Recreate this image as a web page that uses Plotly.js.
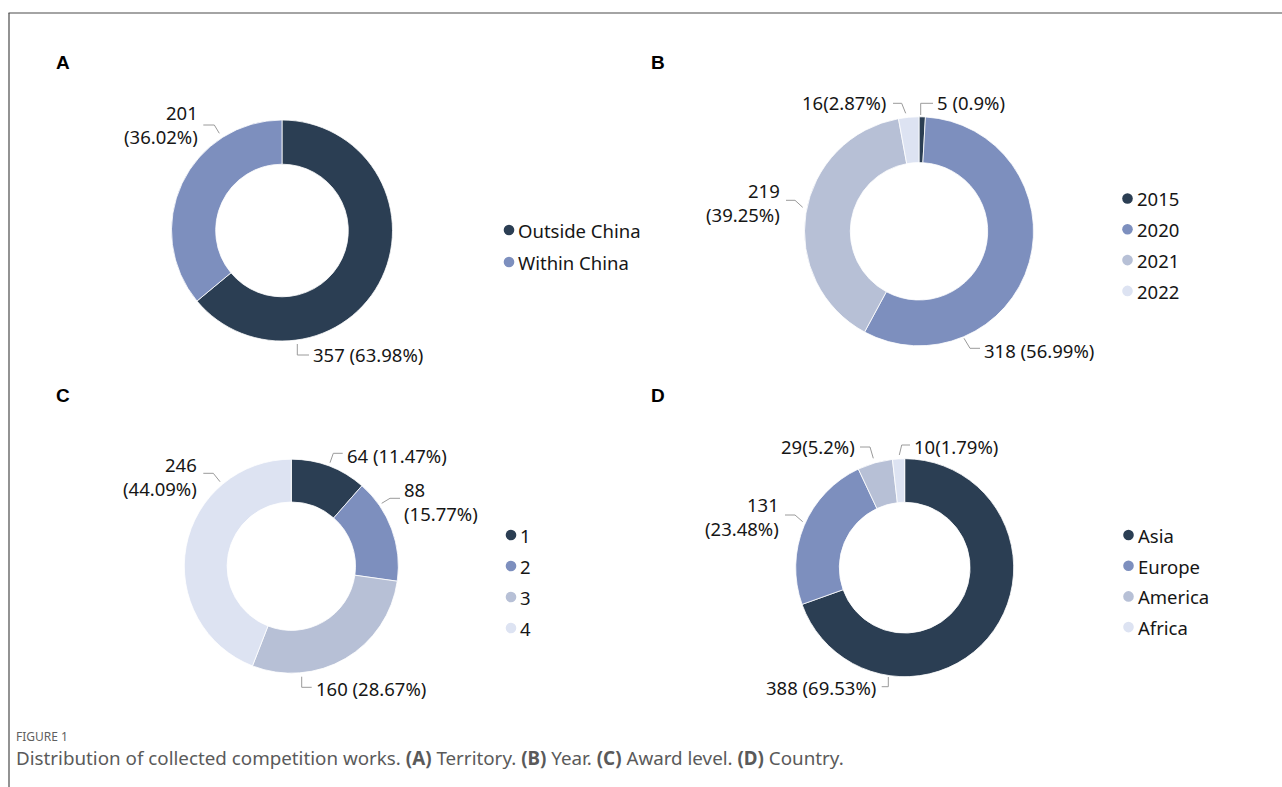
<!DOCTYPE html>
<html>
<head>
<meta charset="utf-8">
<script src="https://cdn.plot.ly/plotly-3.0.1.min.js"></script>
<style>
  html, body { margin: 0; padding: 0; background: #ffffff; }
  #chart { width: 1282px; height: 787px; }
</style>
</head>
<body>
<div id="chart"></div>
<script>
// ---------------- DATA ----------------
const territoryLabels = ["Outside China", "Within China"];
const territoryValues = [357, 201];

const yearLabels = ["2015", "2020", "2021", "2022"];
const yearValues = [5, 318, 219, 16];

const awardLabels = ["1", "2", "3", "4"];
const awardValues = [64, 88, 160, 246];

const countryLabels = ["Asia", "Europe", "America", "Africa"];
const countryValues = [388, 131, 29, 10];

const panelLetters = ["A", "B", "C", "D"];
const captionTitle = "FIGURE 1";
const captionText = "Distribution of collected competition works. <b>(A)</b> Territory. <b>(B)</b> Year. <b>(C)</b> Award level. <b>(D)</b> Country.";

// ---------------- STYLE / LAYOUT ----------------
const W = 1282, H = 787;
const fx = p => p / W;
const fy = p => 1 - p / H;

const palette = ["#2b3e53", "#7d8fbe", "#b7c0d6", "#dde3f2"];
const FONT = "Noto Sans, Open Sans, sans-serif";
const LABEL_SIZE = 18.5;
const TEXT_COLOR = "#161616";
const LEADER_COLOR = "#9a9a9a";

// pie geometry (pixels): center and outer radius
const panels = [
  { labels: territoryLabels, values: territoryValues, cx: 282, cy: 230.5, r: 110.5,
    letter: [63, 62], legend: { x: 509, y0: 230, dy: 32 } },
  { labels: yearLabels, values: yearValues, cx: 919, cy: 231.3, r: 114.5,
    letter: [658, 62], legend: { x: 1127.5, y0: 198.5, dy: 30.8 } },
  { labels: awardLabels, values: awardValues, cx: 291.3, cy: 566.2, r: 107,
    letter: [63, 395], legend: { x: 511, y0: 535, dy: 31 } },
  { labels: countryLabels, values: countryValues, cx: 904.7, cy: 567.7, r: 109,
    letter: [658, 395], legend: { x: 1128.5, y0: 535, dy: 30.7 } }
];

// label placement per slice (leader path points in px, text anchor, separator)
const labelPlacement = [
  [
    { pts: [[297.3, 344], [297.3, 355], [309, 355]], tx: 311, ty: 355, side: "left", sep: " " },
    { pts: [[219.3, 133.3], [214.3, 125], [203.3, 125]], tx: 200, ty: 124, side: "right", sep: "<br>" }
  ],
  [
    { pts: [[920.7, 115], [920.7, 103.3], [933, 103.3]], tx: 935, ty: 103, side: "left", sep: " " },
    { pts: [[964, 338.3], [970, 348.3], [980, 348.3]], tx: 982, ty: 350, side: "left", sep: " " },
    { pts: [[802.7, 207.3], [795, 200.3], [786, 200.3]], tx: 782, ty: 202, side: "right", sep: "<br>" },
    { pts: [[905.7, 113.3], [901.7, 103.3], [893, 103.3]], tx: 888, ty: 103, side: "right", sep: "" }
  ],
  [
    { pts: [[330, 462.7], [333.3, 453.3], [342.7, 453.3]], tx: 345, ty: 455, side: "left", sep: " " },
    { pts: [[381.7, 503.3], [390, 498.3], [400, 498.3]], tx: 402, ty: 501, side: "left", sep: "<br>" },
    { pts: [[301.7, 676.7], [301.7, 687.3], [311.7, 687.3]], tx: 314, ty: 688, side: "left", sep: " " },
    { pts: [[220, 481.7], [213.3, 473.3], [203.3, 473.3]], tx: 199.5, ty: 476.5, side: "right", sep: "<br>" }
  ],
  [
    { pts: [[888.3, 677], [888.3, 686.7], [881.7, 686.7]], tx: 878, ty: 687, side: "right", sep: " " },
    { pts: [[802.7, 521.7], [795, 515], [785, 515]], tx: 781, ty: 516.5, side: "right", sep: "<br>" },
    { pts: [[873.3, 458.3], [870, 447], [860, 447]], tx: 856.5, ty: 447, side: "right", sep: "" },
    { pts: [[899.3, 455], [901.7, 445], [910, 445]], tx: 912, ty: 446, side: "left", sep: "" }
  ]
];

function fmtPct(v, total) {
  const p = Math.round(v / total * 10000) / 100;
  return String(p); // trims trailing zeros like 0.90 -> 0.9
}

const traces = [];
const shapes = [];
const annotations = [];

// Figure frame lines
shapes.push({ type: "line", xref: "paper", yref: "paper", x0: fx(8.5), x1: 1, y0: fy(13), y1: fy(13),
  line: { color: "#4a4a4a", width: 1.2 } });
shapes.push({ type: "line", xref: "paper", yref: "paper", x0: fx(9), x1: fx(9), y0: fy(13), y1: 0,
  line: { color: "#4a4a4a", width: 1.2 } });

panels.forEach((p, i) => {
  const total = p.values.reduce((a, b) => a + b, 0);
  traces.push({
    type: "pie",
    labels: p.labels,
    values: p.values,
    sort: false,
    direction: "clockwise",
    rotation: 0,
    hole: 0.6,
    textinfo: "none",
    hoverinfo: "label+value+percent",
    showlegend: false,
    marker: { colors: palette.slice(0, p.labels.length), line: { color: "#ffffff", width: 0.8 } },
    domain: {
      x: [fx(p.cx - p.r), fx(p.cx + p.r)],
      y: [fy(p.cy + p.r), fy(p.cy - p.r)]
    }
  });

  // panel letter
  annotations.push({
    xref: "paper", yref: "paper", x: fx(p.letter[0]), y: fy(p.letter[1] + 0.5),
    xanchor: "center", yanchor: "middle", showarrow: false,
    text: "<b>" + panelLetters[i] + "</b>",
    font: { family: "Liberation Sans, Arial, sans-serif", size: 19, color: "#000000" }
  });

  // data labels with leader lines
  p.values.forEach((v, j) => {
    const lp = labelPlacement[i][j];
    const path = lp.pts.map((pt, k) => (k === 0 ? "M" : "L") + fx(pt[0]) + "," + fy(pt[1])).join(" ");
    shapes.push({ type: "path", xref: "paper", yref: "paper", path: path,
      line: { color: LEADER_COLOR, width: 1 } });
    annotations.push({
      xref: "paper", yref: "paper", x: fx(lp.tx), y: fy(lp.ty),
      xanchor: lp.side === "left" ? "left" : "right", yanchor: "middle",
      align: lp.side === "left" ? "left" : "right",
      showarrow: false,
      text: v + lp.sep + "(" + fmtPct(v, total) + "%)",
      font: { family: FONT, size: LABEL_SIZE, color: TEXT_COLOR }
    });
  });

  // custom legend
  p.labels.forEach((lab, j) => {
    const y = p.legend.y0 + j * p.legend.dy;
    shapes.push({
      type: "circle", xref: "paper", yref: "paper",
      xsizemode: "pixel", ysizemode: "pixel",
      xanchor: fx(p.legend.x), yanchor: fy(y),
      x0: -5.3, x1: 5.3, y0: -5.3, y1: 5.3,
      fillcolor: palette[j], line: { width: 0 }
    });
    annotations.push({
      xref: "paper", yref: "paper", x: fx(p.legend.x + 7), y: fy(y + 0.5),
      xanchor: "left", yanchor: "middle", showarrow: false,
      text: lab, font: { family: FONT, size: LABEL_SIZE, color: TEXT_COLOR }
    });
  });
});

// caption
annotations.push({
  xref: "paper", yref: "paper", x: fx(15), y: fy(745.5), xanchor: "left", yanchor: "bottom",
  showarrow: false, text: captionTitle, borderpad: 0,
  font: { family: "Noto Sans, sans-serif", size: 12, color: "#5f5f5f" }
});
annotations.push({
  xref: "paper", yref: "paper", x: fx(15), y: fy(757.5), xanchor: "left", yanchor: "middle",
  showarrow: false, text: captionText, borderpad: 0,
  font: { family: "Noto Sans, sans-serif", size: 18.8, color: "#5a5a5a" }
});

const layout = {
  width: W, height: H,
  margin: { l: 0, r: 0, t: 0, b: 0 },
  paper_bgcolor: "#ffffff",
  plot_bgcolor: "#ffffff",
  showlegend: false,
  shapes: shapes,
  annotations: annotations
};

Plotly.newPlot("chart", traces, layout, { displayModeBar: false, staticPlot: true });
</script>
</body>
</html>
